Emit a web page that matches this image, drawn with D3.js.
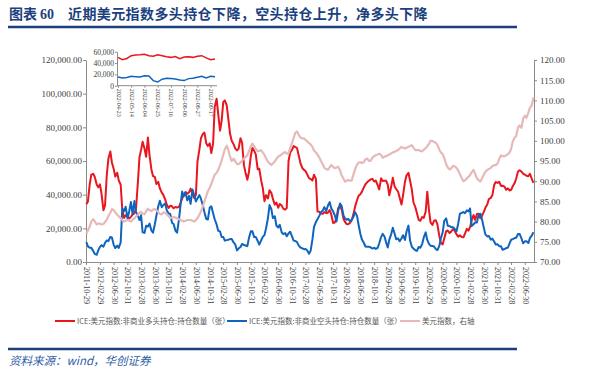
<!DOCTYPE html>
<html>
<head>
<meta charset="utf-8">
<script src="https://cdn.jsdelivr.net/npm/d3@7"></script>
<style>
  body { margin: 0; background: #fff; }
  svg text { font-family: "Liberation Serif", "Times New Roman", serif; fill: #404040; }
</style>
</head>
<body>
<div id="chart"></div>
<script>
// semi-monthly sample dates
const dates = [
  "2011-11-01","2011-11-15","2011-12-01","2011-12-15",
  "2012-01-01","2012-01-15","2012-02-01","2012-02-15","2012-03-01","2012-03-15","2012-04-01","2012-04-15","2012-05-01","2012-05-15","2012-06-01","2012-06-15","2012-07-01","2012-07-15","2012-08-01","2012-08-15","2012-09-01","2012-09-15","2012-10-01","2012-10-15","2012-11-01","2012-11-15","2012-12-01","2012-12-15",
  "2013-01-01","2013-01-15","2013-02-01","2013-02-15","2013-03-01","2013-03-15","2013-04-01","2013-04-15","2013-05-01","2013-05-15","2013-06-01","2013-06-15","2013-07-01","2013-07-15","2013-08-01","2013-08-15","2013-09-01","2013-09-15","2013-10-01","2013-10-15","2013-11-01","2013-11-15","2013-12-01","2013-12-15",
  "2014-01-01","2014-01-15","2014-02-01","2014-02-15","2014-03-01","2014-03-15","2014-04-01","2014-04-15","2014-05-01","2014-05-15","2014-06-01","2014-06-15","2014-07-01","2014-07-15","2014-08-01","2014-08-15","2014-09-01","2014-09-15","2014-10-01","2014-10-15","2014-11-01","2014-11-15","2014-12-01","2014-12-15",
  "2015-01-01","2015-01-15","2015-02-01","2015-02-15","2015-03-01","2015-03-15","2015-04-01","2015-04-15","2015-05-01","2015-05-15","2015-06-01","2015-06-15","2015-07-01","2015-07-15","2015-08-01","2015-08-15","2015-09-01","2015-09-15","2015-10-01","2015-10-15","2015-11-01","2015-11-15","2015-12-01","2015-12-15",
  "2016-01-01","2016-01-15","2016-02-01","2016-02-15","2016-03-01","2016-03-15","2016-04-01","2016-04-15","2016-05-01","2016-05-15","2016-06-01","2016-06-15","2016-07-01","2016-07-15","2016-08-01","2016-08-15","2016-09-01","2016-09-15","2016-10-01","2016-10-15","2016-11-01","2016-11-15","2016-12-01","2016-12-15",
  "2017-01-01","2017-01-15","2017-02-01","2017-02-15","2017-03-01","2017-03-15","2017-04-01","2017-04-15","2017-05-01","2017-05-15","2017-06-01","2017-06-15","2017-07-01","2017-07-15","2017-08-01","2017-08-15","2017-09-01","2017-09-15","2017-10-01","2017-10-15","2017-11-01","2017-11-15","2017-12-01","2017-12-15",
  "2018-01-01","2018-01-15","2018-02-01","2018-02-15","2018-03-01","2018-03-15","2018-04-01","2018-04-15","2018-05-01","2018-05-15","2018-06-01","2018-06-15","2018-07-01","2018-07-15","2018-08-01","2018-08-15","2018-09-01","2018-09-15","2018-10-01","2018-10-15","2018-11-01","2018-11-15","2018-12-01","2018-12-15",
  "2019-01-01","2019-01-15","2019-02-01","2019-02-15","2019-03-01","2019-03-15","2019-04-01","2019-04-15","2019-05-01","2019-05-15","2019-06-01","2019-06-15","2019-07-01","2019-07-15","2019-08-01","2019-08-15","2019-09-01","2019-09-15","2019-10-01","2019-10-15","2019-11-01","2019-11-15","2019-12-01","2019-12-15",
  "2020-01-01","2020-01-15","2020-02-01","2020-02-15","2020-03-01","2020-03-15","2020-04-01","2020-04-15","2020-05-01","2020-05-15","2020-06-01","2020-06-15","2020-07-01","2020-07-15","2020-08-01","2020-08-15","2020-09-01","2020-09-15","2020-10-01","2020-10-15","2020-11-01","2020-11-15","2020-12-01","2020-12-15",
  "2021-01-01","2021-01-15","2021-02-01","2021-02-15","2021-03-01","2021-03-15","2021-04-01","2021-04-15","2021-05-01","2021-05-15","2021-06-01","2021-06-15","2021-07-01","2021-07-15","2021-08-01","2021-08-15","2021-09-01","2021-09-15","2021-10-01","2021-10-15","2021-11-01","2021-11-15","2021-12-01","2021-12-15",
  "2022-01-01","2022-01-15","2022-02-01","2022-02-15","2022-03-01","2022-03-15","2022-04-01","2022-04-15","2022-05-01","2022-05-15","2022-06-01","2022-06-15","2022-07-01","2022-07-15","2022-08-01","2022-08-15","2022-09-01","2022-09-15"
];

// 非商业多头持仓 (千张)
const longPos = [
  34.3,35.9,46.2,51.9,52.4,50.5,46.1,44.4,46.1,40.5,
  30.8,33.6,52.0,61.5,65.7,59.1,55.3,50.7,53.0,48.5,
  45.9,31.5,26.2,27.8,26.9,25.9,26.9,28.0,29.0,31.5,
  47.5,62.3,66.6,71.5,67.3,62.5,74.0,63.5,55.0,51.1,
  50.6,46.3,47.6,43.8,41.2,39.9,37.2,34.2,32.1,33.4,
  33.1,31.9,32.7,32.4,32.7,35.2,37.7,40.1,41.6,40.6,
  41.3,43.6,40.3,38.1,39.8,59.6,66.8,73.6,76.1,76.9,
  70.6,68.9,70.5,64.7,70.5,
  92,97,88,78,84,95,96,93,85,76,72,70,
  67.5,66.3,67.2,73.5,71.0,57.4,53.0,48.8,53.5,63.1,67.8,66.0,63.9,
  55.1,55.4,48.3,44.0,36.1,39.7,37.8,42.6,41.1,37.5,
  34.1,35.3,32.2,34.5,33.5,31.7,31.1,32.0,60.0,65.0,
  66.7,68.9,68.3,67.7,62.8,58.6,55.7,54.7,54.0,52.1,
  49.8,49.3,48.4,51.8,49.4,30.0,29.9,28.8,28.6,29.7,
  29.0,29.3,30.8,28.4,23.2,23.4,26.0,31.9,33.1,31.4,
  25.7,23.8,22.5,22.4,23.3,24.8,28.6,32.9,36.7,39.3,
  40.3,41.8,44.3,46.2,47.5,48.3,49.1,49.4,47.8,48.4,
  45.7,43.1,49.7,48.1,48.2,
  48.2,46.0,39.6,44.8,50.0,44.9,43.4,41.7,38.1,34.1,
  39.6,47.7,51.5,53.0,48.4,43.0,35.5,32.6,29.1,25.0,
  24.5,26.7,26.2,30.0,41.8,31.0,23.5,22.0,24.5,24.8,
  22.3,15.5,11.2,10.5,14.0,18.3,18.7,17.2,18.1,19.6,
  18.6,16.4,15.1,15.9,14.9,14.7,16.8,19.7,18.6,20.7,
  24.7,27.9,25.0,28.5,28.6,26.0,27.4,29.8,32.2,34.1,
  37.4,38.1,39.6,45.7,47.5,47.0,47.6,45.2,45.3,44.8,
  42.9,43.7,42.5,42.9,45.0,46.9,49.6,53.7,54.5,53.7,
  52.5,51.9,51.2,51.0,52.4,49.3,47.0
];

// 非商业空头持仓 (千张)
const shortPos = [
  11.9,9.3,8.5,8.4,6.6,4.8,4.3,6.9,9.0,10.0,
  9.1,11.4,12.8,12.4,14.9,14.6,10.2,8.3,9.7,8.4,
  11.6,31.7,30.2,32.8,26.0,29.9,35.7,28.4,36.2,29.7,
  27.5,24.9,27.8,17.6,17.3,21.5,21.1,22.8,18.7,17.4,
  22.3,27.5,33.1,36.4,32.5,33.9,34.7,30.8,28.8,28.5,
  23.3,22.6,18.5,17.4,25.3,33.9,41.9,39.0,41.1,36.6,
  39.3,34.5,43.1,40.0,35.9,37.8,39.7,37.6,33.6,29.5,
  25.6,25.2,32.3,33.1,28.9,25.4,22.3,18.6,18.0,14.8,
  14.9,12.7,13.0,13.2,13.6,13.6,11.6,
  10.5,6.9,8.0,8.9,10.7,10.1,9.8,9.4,14.2,18.3,18.2,14.8,14.9,
  12.5,10.3,12.9,14.9,16.0,19.9,26.1,33.8,31.5,26.1,
  27.2,21.7,20.5,22.1,17.6,16.5,17.2,15.3,17.0,18.0,
  15.2,12.7,12.5,11.8,9.6,8.6,8.1,7.6,7.7,7.0,
  4.9,6.6,13.4,20.8,23.7,25.4,27.4,29.5,30.7,32.6,
  30.3,33.4,35.6,32.0,30.0,27.9,24.1,30.1,34.7,33.4,
  27.7,25.8,25.1,25.6,24.2,25.1,26.9,29.6,27.4,22.1,
  16.6,13.3,11.3,9.2,9.0,9.1,8.6,8.0,8.4,7.8,
  8.4,11.0,14.8,16.7,15.0,
  11.5,8.6,13.3,16.6,20.3,16.8,13.5,14.0,12.3,14.0,
  15.9,13.1,18.1,21.6,12.9,9.0,8.0,7.0,6.6,8.9,
  8.5,10.8,14.6,17.6,13.1,10.8,9.7,9.5,9.2,7.7,
  7.1,9.6,14.1,17.6,24.5,25.9,21.5,21.3,20.7,20.7,
  19.6,18.3,22.6,28.7,29.1,29.7,29.0,30.7,30.0,31.8,
  21.3,22.4,23.6,23.4,28.0,28.7,25.4,20.4,16.4,15.2,
  15.4,13.3,13.9,12.2,10.4,10.5,9.4,9.3,7.3,7.7,
  8.2,8.6,11.1,13.2,13.6,14.2,14.4,16.6,16.7,14.0,
  11.1,12.3,12.3,11.3,14.2,15.8,17.7
];

// 美元指数 (右轴)
const dxy = [
  77.0,77.8,78.8,80.0,80.6,80.1,79.3,79.5,79.5,79.3,
  79.4,79.9,80.5,81.4,82.2,83.1,82.9,82.3,81.7,81.3,
  80.8,80.4,80.0,80.2,80.4,80.2,80.0,80.4,80.8,81.3,
  81.7,82.2,82.4,82.0,81.8,82.5,83.2,82.8,82.6,83.0,
  83.1,82.8,82.3,81.9,81.8,82.3,82.2,81.8,81.3,80.9,
  81.0,81.1,81.0,80.8,80.6,80.4,80.2,80.0,80.2,80.4,
  80.4,80.4,80.2,80.0,80.4,80.8,81.7,82.5,83.8,85.0,
  86.3,87.5,88.4,89.3,90.6,91.6,92.1,92.8,94.0,95.2,
  96.5,97.9,98.8,97.7,96.0,95.0,95.6,
  94.9,94.3,94.2,94.6,95.1,95.6,96.0,96.4,97.4,98.7,99.3,98.6,98.0,
  97.4,97.5,97.7,97.1,96.5,95.7,94.8,94.4,94.0,94.4,
  94.9,95.5,96.1,96.3,96.6,97.0,97.2,96.8,96.9,98.2,
  99.5,100.7,102.0,102.3,101.4,100.8,100.6,100.6,100.2,99.9,
  99.4,99.1,98.5,97.6,97.1,96.6,95.9,95.0,94.2,93.3,
  93.0,92.8,93.4,94.0,93.6,93.2,93.4,93.6,92.7,91.5,
  90.6,89.9,90.1,90.3,90.1,90.2,91.7,93.0,94.1,94.6,
  94.7,94.5,94.7,95.4,95.6,95.0,95.1,95.8,96.2,96.4,
  96.6,96.8,96.5,95.8,96.1,
  96.2,96.4,96.6,96.9,97.1,97.3,97.5,97.7,98.1,98.5,
  98.3,98.1,98.3,98.5,98.7,98.9,98.3,97.7,97.7,97.7,
  97.5,97.4,97.8,98.2,98.7,99.2,100.0,100.0,99.7,99.5,
  99.0,97.8,97.1,96.7,95.7,94.2,93.4,92.9,93.2,93.8,
  93.7,93.3,92.7,91.7,90.9,90.0,90.2,90.7,91.1,91.5,
  92.2,92.8,91.8,90.7,90.3,89.9,90.7,91.6,92.3,92.8,
  93.0,93.3,93.7,94.0,94.0,94.4,95.5,96.4,96.2,96.2,
  96.4,96.7,97.1,98.0,99.8,100.8,101.2,103.3,103.8,103.2,
  105.5,106.2,105.7,107.0,108.2,108.8,110.7
];

const xTickLabels = [
  "2011-10-29","2012-02-29","2012-06-30","2012-10-31","2013-02-28","2013-06-30","2013-10-31",
  "2014-02-28","2014-06-30","2014-10-31","2015-02-28","2015-06-30","2015-10-31","2016-02-29",
  "2016-06-30","2016-10-31","2017-02-28","2017-06-30","2017-10-31","2018-02-28","2018-06-30",
  "2018-10-31","2019-02-28","2019-06-30","2019-10-31","2020-02-29","2020-06-30","2020-10-31",
  "2021-02-28","2021-06-30","2021-10-31","2022-02-28","2022-06-30"
];
const leftTicks = [0, 20, 40, 60, 80, 100, 120];       // 千张
const rightTicks = [70, 75, 80, 85, 90, 95, 100, 105, 110, 115, 120];

// inset: recent weekly data
const insetDates = [
  "2022-04-23","2022-04-30","2022-05-07","2022-05-14","2022-05-21","2022-05-28","2022-06-04","2022-06-11",
  "2022-06-18","2022-06-25","2022-07-02","2022-07-09","2022-07-16","2022-07-23","2022-07-30","2022-08-06",
  "2022-08-13","2022-08-20","2022-08-27","2022-09-03","2022-09-10","2022-09-17","2022-09-24"
];
const insetLong = [50,46,48,53,54,54.5,55.5,53,52,54.5,53,51,50,51.5,47.5,50.5,51,50,52,53,49,46,47];
const insetShort = [15.5,13.5,14.5,16.5,16,15.5,17.5,17,9,6.5,11.5,13,12.5,12,10,9,12.5,13,15,16.5,13.5,16.5,16];
const insetTickLabels = ["2022-04-23","2022-05-14","2022-06-04","2022-06-25","2022-07-16","2022-08-06","2022-08-27","2022-09-17"];
const insetYTicks = [0, 20, 40, 60];

const W = 604, H = 373;
const plot = { left: 86, right: 534, top: 60, bottom: 262 };
const colors = { long: "#e8161e", short: "#0f64be", dxy: "#e6b9b8", axis: "#8c8c8c", navy: "#1c3f7e" };
const parse = d3.timeParse("%Y-%m-%d");

const svg = d3.select("#chart").append("svg").attr("width", W).attr("height", H);

// title + rules
const title = svg.append("text").attr("x", 9).attr("y", 18.5)
  .style("font-size", "14px").style("font-weight", "bold").style("fill", colors.navy);
title.append("tspan").style("font-family", "'Noto Sans CJK SC'").text("图表");
title.append("tspan").attr("x", 40).style("font-family", "'Liberation Serif'").text("60");
title.append("tspan").attr("x", 68).style("font-family", "'Noto Sans CJK SC'")
  .style("letter-spacing", "0.4px")
  .text("近期美元指数多头持仓下降，空头持仓上升，净多头下降");
svg.append("line").attr("x1", 8).attr("x2", 517).attr("y1", 27).attr("y2", 27)
  .attr("stroke", colors.navy).attr("stroke-width", 2.5);
svg.append("line").attr("x1", 8).attr("x2", 517).attr("y1", 349).attr("y2", 349)
  .attr("stroke", colors.navy).attr("stroke-width", 2.5);
svg.append("text").attr("x", 9).attr("y", 365)
  .style("font-family", "'Noto Sans CJK SC'").style("font-style", "italic")
  .style("font-size", "11.5px").style("fill", "#2f5ea8")
  .text("资料来源：wind，华创证券");

// scales
const x = d3.scaleTime()
  .domain([parse("2011-10-29"), parse("2022-09-20")])
  .range([plot.left, plot.right]);
const yL = d3.scaleLinear().domain([0, 120]).range([plot.bottom, plot.top]);
const yR = d3.scaleLinear().domain([70, 120]).range([plot.bottom, plot.top]);

// axes
const fmtL = d3.format(",.2f");
const gL = svg.append("g").attr("transform", `translate(${plot.left},0)`)
  .call(d3.axisLeft(yL).tickValues(leftTicks).tickSize(3).tickSizeOuter(0)
    .tickFormat(d => fmtL(d * 1000)));
const gR = svg.append("g").attr("transform", `translate(${plot.right},0)`)
  .call(d3.axisRight(yR).tickValues(rightTicks).tickSize(3).tickSizeOuter(0)
    .tickFormat(d3.format(".2f")));
const gX = svg.append("g").attr("transform", `translate(0,${plot.bottom})`)
  .call(d3.axisBottom(x).tickValues(xTickLabels.map(parse)).tickSize(3).tickSizeOuter(0)
    .tickFormat(d3.timeFormat("%Y-%m-%d")));
gX.selectAll("text").attr("transform", "rotate(90)").attr("x", 5).attr("y", 0)
  .attr("dy", "0.32em").style("text-anchor", "start").style("font-size", "8px");
gL.selectAll("text").style("font-size", "9px").attr("x", -4);
gR.selectAll("text").style("font-size", "9px").attr("x", 6);
[gL, gR, gX].forEach(g => {
  g.selectAll(".domain, line").attr("stroke", colors.axis);
});

// series
const rows = dates.map((d, i) => ({ date: parse(d), long: longPos[i], short: shortPos[i], dxy: dxy[i] }));
const lineL = key => d3.line().x(d => x(d.date)).y(d => yL(d[key]));
svg.append("path").datum(rows).attr("d", lineL("long"))
  .attr("fill", "none").attr("stroke", colors.long).attr("stroke-width", 2).attr("stroke-linejoin", "round");
svg.append("path").datum(rows).attr("d", lineL("short"))
  .attr("fill", "none").attr("stroke", colors.short).attr("stroke-width", 2).attr("stroke-linejoin", "round");
svg.append("path").datum(rows).attr("d", d3.line().x(d => x(d.date)).y(d => yR(d.dxy)))
  .attr("fill", "none").attr("stroke", colors.dxy).attr("stroke-width", 2.2).attr("stroke-linejoin", "round");

// inset
const ix = d3.scaleTime().domain([parse("2022-04-23"), parse("2022-09-24")]).range([118, 215]);
const iy = d3.scaleLinear().domain([0, 60]).range([85.7, 51.7]);
const gi = svg.append("g");
const giL = gi.append("g").attr("transform", "translate(117,0)")
  .call(d3.axisLeft(iy).tickValues(insetYTicks).tickSize(2).tickSizeOuter(0)
    .tickFormat(d => d3.format(",")(d * 1000)));
const giX = gi.append("g").attr("transform", "translate(0,85.7)")
  .call(d3.axisBottom(ix).tickValues(insetTickLabels.map(parse)).tickSize(2).tickSizeOuter(0)
    .tickFormat(d3.timeFormat("%Y-%m-%d")));
giX.select(".domain").attr("d", "M117,0H217");
giX.selectAll("text").attr("transform", "rotate(90)").attr("x", 3).attr("y", 0)
  .attr("dy", "0.32em").style("text-anchor", "start").style("font-size", "6px");
giL.selectAll("text").style("font-size", "7.5px").attr("x", -3);
[giL, giX].forEach(g => g.selectAll(".domain, line").attr("stroke", colors.axis));
const irows = insetDates.map((d, i) => ({ date: parse(d), long: insetLong[i], short: insetShort[i] }));
gi.append("path").datum(irows).attr("d", d3.line().x(d => ix(d.date)).y(d => iy(d.long)))
  .attr("fill", "none").attr("stroke", colors.long).attr("stroke-width", 1.5);
gi.append("path").datum(irows).attr("d", d3.line().x(d => ix(d.date)).y(d => iy(d.short)))
  .attr("fill", "none").attr("stroke", colors.short).attr("stroke-width", 1.5);

// legend
const legend = [
  { x: 55, color: colors.long, label: "ICE:美元指数:非商业多头持仓:持仓数量（张）" },
  { x: 227, color: colors.short, label: "ICE:美元指数:非商业空头持仓:持仓数量（张）" },
  { x: 400, color: colors.dxy, label: "美元指数，右轴" }
];
const lg = svg.append("g").attr("transform", "translate(0,321)");
legend.forEach(l => {
  lg.append("line").attr("x1", l.x).attr("x2", l.x + 20).attr("y1", 0).attr("y2", 0)
    .attr("stroke", l.color).attr("stroke-width", 2);
  lg.append("text").attr("x", l.x + 22).attr("y", 3)
    .style("font-family", "'Noto Sans CJK SC'").style("font-size", "7.5px")
    .style("fill", "#595959").text(l.label);
});
</script>
</body>
</html>
